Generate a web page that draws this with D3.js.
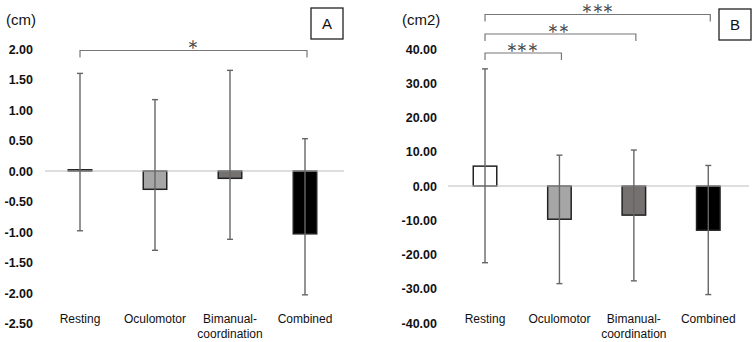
<!DOCTYPE html>
<html>
<head>
<meta charset="utf-8">
<script src="https://cdn.jsdelivr.net/npm/d3@7"></script>
<style>
  body { margin: 0; background: #fff; }
  text { font-family: "Liberation Sans", Arial, sans-serif; }
</style>
</head>
<body>
<div id="chart"></div>
<script>
// categories
var categories = ['Resting', 'Oculomotor', 'Bimanual-coordination', 'Combined'];
var barColors = ['#ffffff', '#a6a6a6', '#767171', '#000000'];

// panel A (cm)
var meanA = [0.02, -0.30, -0.12, -1.03];
var errTopA = [1.60, 1.17, 1.65, 0.53];
var errBotA = [-0.98, -1.30, -1.12, -2.03];
var ticksA = [2.0, 1.5, 1.0, 0.5, 0, -0.5, -1.0, -1.5, -2.0, -2.5];
var sigA = [{ from: 0, to: 3, label: '＊' }];

// panel B (cm2)
var meanB = [5.8, -9.7, -8.5, -12.9];
var errTopB = [34.2, 9.0, 10.5, 6.0];
var errBotB = [-22.4, -28.5, -27.7, -31.7];
var ticksB = [40, 30, 20, 10, 0, -10, -20, -30, -40];
var sigB = [
    { from: 0, to: 3, label: '＊＊＊' },
    { from: 0, to: 2, label: '＊＊' },
    { from: 0, to: 1, label: '＊＊＊' }
];

var width = 753;
var height = 342;
var fmt = d3.format('.2f');

var svg = d3.select('#chart')
    .append('svg')
    .attr('width', width)
    .attr('height', height);

svg.append('rect')
    .attr('width', width)
    .attr('height', height)
    .attr('fill', '#fff');

function drawPanel(opt) {
    var g = svg.append('g');

    var yScale = d3.scaleLinear()
        .domain(opt.domain)
        .range(opt.yRange);

    var xScale = d3.scaleBand()
        .domain(categories)
        .range(opt.xRange);

    var barW = 23.5;
    var cx = function(i) { return xScale(categories[i]) + xScale.bandwidth() / 2; };

    // tick labels
    g.selectAll('.tick-label')
        .data(opt.ticks)
        .enter()
        .append('text')
        .attr('x', opt.labelX)
        .attr('y', function(d) { return yScale(d); })
        .attr('dy', '0.36em')
        .attr('text-anchor', 'end')
        .attr('font-size', '12.5px')
        .attr('font-weight', 'bold')
        .attr('fill', '#111')
        .text(function(d) { return fmt(d).replace('\u2212', '-'); });

    // unit label
    g.append('text')
        .attr('x', opt.unitX)
        .attr('y', 25)
        .attr('font-size', '15px')
        .attr('fill', '#111')
        .text(opt.unit);

    // bars
    g.selectAll('.bar')
        .data(opt.means)
        .enter()
        .append('rect')
        .attr('x', function(d, i) { return cx(i) - barW / 2; })
        .attr('y', function(d) { return yScale(Math.max(0, d)); })
        .attr('width', barW)
        .attr('height', function(d) { return Math.max(1, Math.abs(yScale(d) - yScale(0))); })
        .attr('fill', function(d, i) { return barColors[i]; })
        .attr('stroke', '#222')
        .attr('stroke-width', 1.5);

    // zero line
    g.append('line')
        .attr('x1', opt.zeroX[0])
        .attr('x2', opt.zeroX[1])
        .attr('y1', yScale(0))
        .attr('y2', yScale(0))
        .attr('stroke', '#bdbdbd')
        .attr('stroke-width', 1.2);

    // error bars
    var err = g.selectAll('.err')
        .data(opt.means)
        .enter()
        .append('g')
        .attr('stroke', '#666')
        .attr('stroke-width', 1.4);

    err.append('line')
        .attr('x1', function(d, i) { return cx(i); })
        .attr('x2', function(d, i) { return cx(i); })
        .attr('y1', function(d, i) { return yScale(opt.errTop[i]); })
        .attr('y2', function(d, i) { return yScale(opt.errBot[i]); });

    err.append('line')
        .attr('x1', function(d, i) { return cx(i) - 3; })
        .attr('x2', function(d, i) { return cx(i) + 3; })
        .attr('y1', function(d, i) { return yScale(opt.errTop[i]); })
        .attr('y2', function(d, i) { return yScale(opt.errTop[i]); });

    err.append('line')
        .attr('x1', function(d, i) { return cx(i) - 3; })
        .attr('x2', function(d, i) { return cx(i) + 3; })
        .attr('y1', function(d, i) { return yScale(opt.errBot[i]); })
        .attr('y2', function(d, i) { return yScale(opt.errBot[i]); });

    // category labels
    categories.forEach(function(c, i) {
        var t = g.append('text')
            .attr('x', cx(i))
            .attr('y', 323)
            .attr('text-anchor', 'middle')
            .attr('font-size', '12px')
            .attr('fill', '#111');
        if (c === 'Bimanual-coordination') {
            t.append('tspan').attr('x', cx(i)).text('Bimanual-');
            t.append('tspan').attr('x', cx(i)).attr('dy', 15).text('coordination');
        } else {
            t.text(c);
        }
    });

    // significance brackets
    opt.sig.forEach(function(s, k) {
        var by = opt.sigY[k];
        var x1 = cx(s.from);
        var x2 = cx(s.to) + 2;
        g.append('path')
            .attr('d', 'M' + x1 + ',' + (by + 7) + 'V' + by + 'H' + x2 + 'V' + (by + 7))
            .attr('fill', 'none')
            .attr('stroke', '#777')
            .attr('stroke-width', 1.2);
        g.append('text')
            .attr('x', (x1 + x2) / 2 + opt.sigDx[k] - 4.75)
            .attr('y', by + 3.5)
            .attr('text-anchor', 'middle')
            .attr('font-family', '"Noto Sans CJK JP", sans-serif')
            .attr('font-size', '20px')
            .attr('letter-spacing', '-9.5px')
            .attr('fill', '#444')
            .text(s.label);
    });

    // panel letter box
    g.append('rect')
        .attr('x', opt.box[0])
        .attr('y', opt.box[1])
        .attr('width', 32)
        .attr('height', 31)
        .attr('fill', '#fff')
        .attr('stroke', '#222')
        .attr('stroke-width', 1.3);
    g.append('text')
        .attr('x', opt.box[0] + 16)
        .attr('y', opt.box[1] + 21)
        .attr('text-anchor', 'middle')
        .attr('font-size', '15px')
        .attr('fill', '#111')
        .text(opt.letter);
}

drawPanel({
    domain: [-2.5, 2.0],
    yRange: [323.5, 49],
    xRange: [42.5, 342.5],
    zeroX: [45, 344],
    labelX: 33,
    unitX: 6,
    unit: '(cm)',
    ticks: ticksA,
    means: meanA,
    errTop: errTopA,
    errBot: errBotA,
    sig: sigA,
    sigY: [50.5],
    sigDx: [-1],
    box: [311, 8],
    letter: 'A'
});

drawPanel({
    domain: [-40, 40],
    yRange: [323, 49],
    xRange: [447.8, 745.5],
    zeroX: [448, 749],
    labelX: 437,
    unitX: 402,
    unit: '(cm2)',
    ticks: ticksB,
    means: meanB,
    errTop: errTopB,
    errBot: errBotB,
    sig: sigB,
    sigY: [14.5, 34, 53],
    sigDx: [0, -2, -1],
    box: [719, 9],
    letter: 'B'
});
</script>
</body>
</html>
